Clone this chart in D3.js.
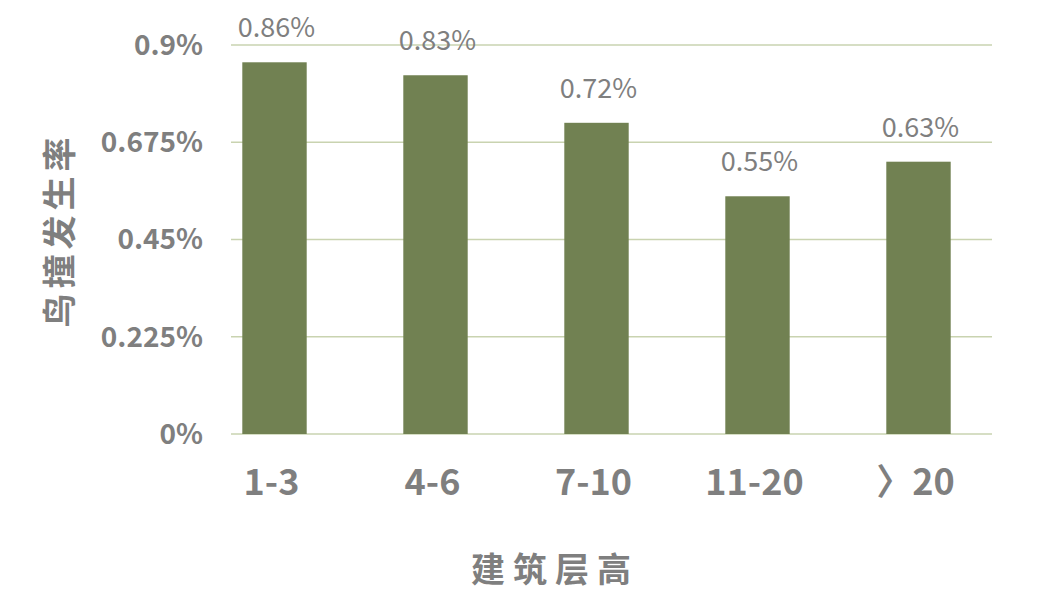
<!DOCTYPE html>
<html><head><meta charset="utf-8">
<script src="https://cdn.jsdelivr.net/npm/d3@7"></script>
<style>body{margin:0;background:#fff;} text{font-family:"Noto Sans CJK SC","Noto Sans",sans-serif;}</style>
</head><body><svg id="c" width="1039" height="612"></svg>
<script>
const categories = ["1-3", "4-6", "7-10", "11-20", "〉20"];
const values = [0.86, 0.83, 0.72, 0.55, 0.63];
const valueLabels = ["0.86%", "0.83%", "0.72%", "0.55%", "0.63%"];
const yTicks = [0, 0.225, 0.45, 0.675, 0.9];
const yTickLabels = ["0%", "0.225%", "0.45%", "0.675%", "0.9%"];

const svg = d3.select("#c");
const x = d3.scaleBand().domain(categories).range([194, 999]).paddingInner(0.6).paddingOuter(0.3);
const y = d3.scaleLinear().domain([0, 0.9]).range([434, 45]);
const gray = "#7f7f7f";

// gridlines
svg.append("g").selectAll("line").data(yTicks).join("line")
  .attr("x1", 231).attr("x2", 992)
  .attr("y1", d => y(d)).attr("y2", d => y(d))
  .attr("stroke", "#c9d3b0").attr("stroke-width", 1.3);

// y tick labels
svg.append("g").selectAll("text").data(yTicks).join("text")
  .attr("x", 203).attr("y", d => y(d)).attr("dy", "0.35em")
  .attr("text-anchor", "end").attr("fill", gray)
  .attr("font-size", 28).attr("font-weight", 600)
  .text((d, i) => yTickLabels[i]);

// bars
svg.append("g").selectAll("rect").data(values).join("rect")
  .attr("x", (d, i) => x(categories[i]))
  .attr("width", x.bandwidth())
  .attr("y", d => y(d))
  .attr("height", d => y(0) - y(d))
  .attr("fill", "#718152");

// value labels
svg.append("g").selectAll("text").data(values).join("text")
  .attr("x", (d, i) => x(categories[i]) + x.bandwidth() / 2 + 2)
  .attr("y", d => y(d) - 25)
  .attr("text-anchor", "middle").attr("fill", gray)
  .attr("font-size", 27).attr("font-weight", 400)
  .text((d, i) => valueLabels[i]);

// x labels
svg.append("g").selectAll("text").data(categories).join("text")
  .attr("x", d => x(d) + x.bandwidth() / 2 - 3)
  .attr("y", 495)
  .attr("text-anchor", "middle").attr("fill", gray)
  .attr("font-size", 36).attr("font-weight", 700)
  .text(d => d);

// axis titles
svg.append("text").attr("x", 555).attr("y", 582)
  .attr("text-anchor", "middle").attr("fill", gray)
  .attr("font-size", 34).attr("font-weight", 700).attr("letter-spacing", 8)
  .text("建筑层高");

svg.append("text").attr("transform", "translate(72,230) rotate(-90)")
  .attr("text-anchor", "middle").attr("fill", gray)
  .attr("font-size", 34).attr("font-weight", 700).attr("letter-spacing", 5)
  .text("鸟撞发生率");
</script></body></html>
